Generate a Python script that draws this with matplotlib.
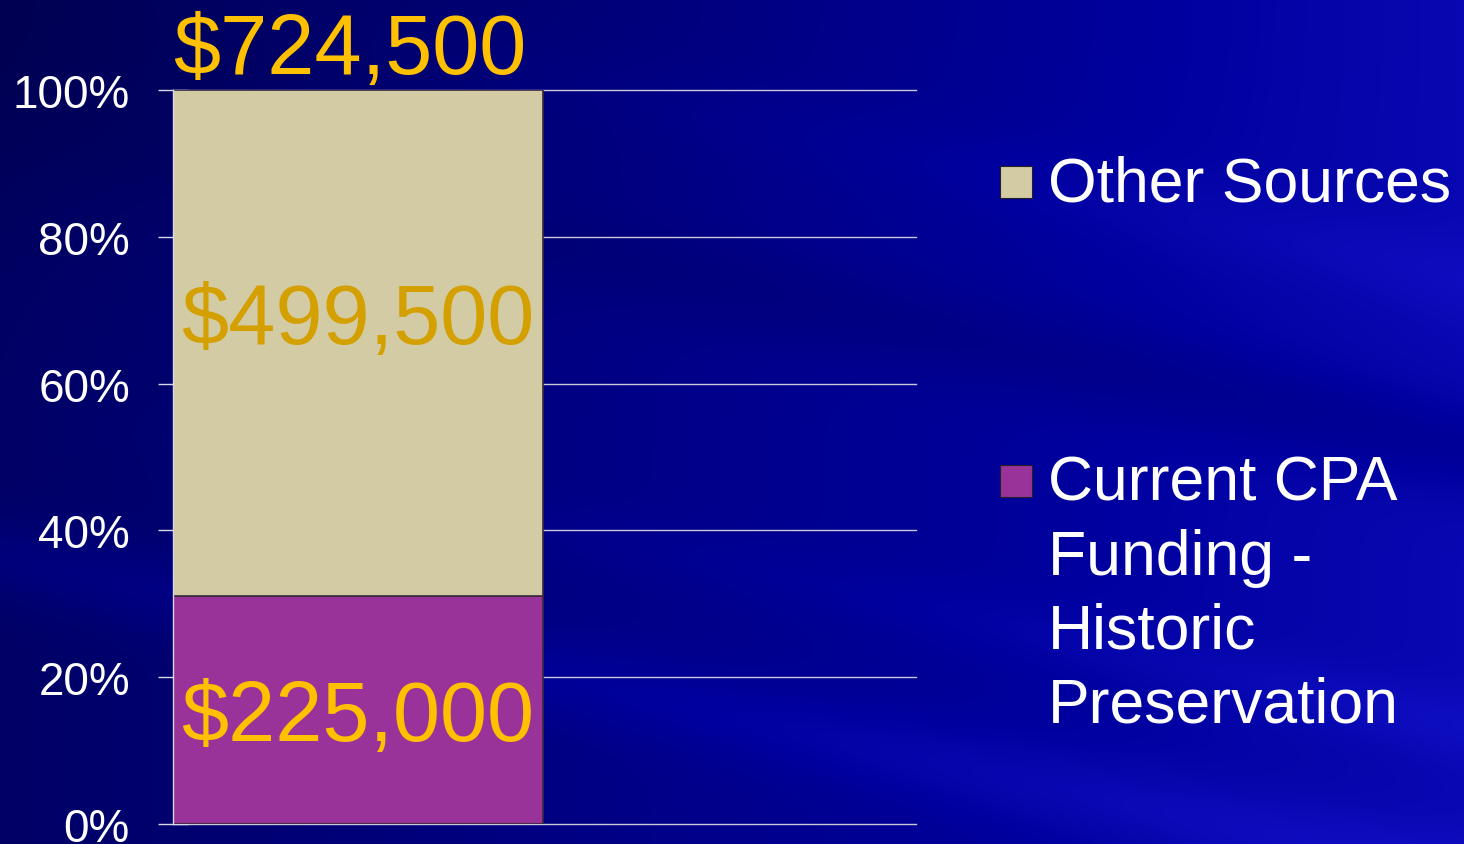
import matplotlib
matplotlib.use("Agg")
import matplotlib.pyplot as plt
import numpy as np
from matplotlib.patches import Rectangle

# data
segments = ["Current CPA\nFunding -\nHistoric\nPreservation", "Other Sources"]
amounts = [225000, 499500]
seg_colors = ["#993399", "#D3CBA3"]
seg_label_colors = ["#FFC000", "#D4A000"]
yticks = [0, 20, 40, 60, 80, 100]

plt.rcParams["font.family"] = ["Liberation Sans", "DejaVu Sans"]

W, H = 1464, 845
fig = plt.figure(figsize=(W / 100, H / 100), dpi=100)


def px(x, y):
    return x / W, 1 - y / H


# background: dark blue with diagonal light streaks
bg = fig.add_axes([0, 0, 1, 1])
bg.axis("off")
yy, xx = np.mgrid[0:H, 0:W]
u = xx / W
v = yy / H
d = v - 0.38 * u
blue = 0.40 + 0.30 * u
blue += 0.08 * np.exp(-((d - 0.66) / 0.05) ** 2)
blue += 0.06 * np.exp(-((d - 0.48) / 0.04) ** 2) * u
blue -= 0.10 * np.exp(-((d - 0.15) / 0.06) ** 2) * u
blue += 0.05 * np.exp(-((d + 0.05) / 0.05) ** 2) * u
blue -= 0.08 * (1 - u) * np.exp(-((v - 0.0) / 0.25) ** 2)
blue = np.clip(blue, 0.25, 0.85)
light = np.clip((blue - 0.62) * 0.4, 0, 0.08)
img = np.dstack([light, light, blue])
bg.imshow(img, extent=[0, 1, 0, 1], aspect="auto", zorder=-10)
bg.set_xlim(0, 1)
bg.set_ylim(0, 1)

# main axes
x0, x1, ytop, ybot = 173, 916, 91, 825
ax = fig.add_axes([x0 / W, (H - ybot) / H, (x1 - x0) / W, (ybot - ytop) / H])
ax.patch.set_alpha(0)

total = sum(amounts)
pcts = [a / total * 100 for a in amounts]
bar_w = 1.0
ax.set_xlim(0, (x1 - x0) / (543 - x0))
ax.set_ylim(0, 100)

bottom = 0
for pct, col in zip(pcts, seg_colors):
    ax.bar(0, pct, bar_w, bottom=bottom, align="edge", color=col,
           edgecolor="#3a2a3a", linewidth=1.2, zorder=2)
    bottom += pct

# segment labels (offsets in px)
offsets = [-8, 22]
bottom = 0
for amt, pct, lc, off in zip(amounts, pcts, seg_label_colors, offsets):
    ax.annotate(f"${amt:,.0f}", (bar_w / 2, bottom + pct / 2),
                xytext=(0, off * 0.72), textcoords="offset points",
                ha="center", va="center", fontsize=61, color=lc, zorder=4)
    bottom += pct

ax.annotate(f"${total:,.0f}", (bar_w / 2, 100), xytext=(-6, 12.2),
            textcoords="offset points", ha="center", va="baseline",
            fontsize=61, color="#FFC000", annotation_clip=False)

ax.set_yticks(yticks)
ax.set_yticklabels([f"{t}%" for t in yticks])
ax.set_xticks([])
ax.yaxis.grid(True, color="#C8C8D8", linewidth=1.0, zorder=0)
ax.set_axisbelow(True)
for gl in ax.get_ygridlines():
    gl.set_clip_on(False)
ax.tick_params(axis="y", direction="inout", length=22, width=1.0,
               colors="#D8D8E8", labelcolor="white", labelsize=33, pad=20)
for s in ["top", "right", "bottom"]:
    ax.spines[s].set_visible(False)
ax.spines["left"].set_color("#D8D8E8")
ax.spines["left"].set_linewidth(1.0)
for t in ax.yaxis.get_major_ticks():
    t.tick1line.set_zorder(5)

# legend drawn by hand: top entry is the top segment
leg_items = [(segments[1], seg_colors[1], 202), (segments[0], seg_colors[0], 501)]
for label, col, base in leg_items:
    sx, sy = px(1000, base - 3)
    fig.patches.append(Rectangle((sx, sy), 32 / W, 32 / H, transform=fig.transFigure,
                                 facecolor=col, edgecolor="#222222", linewidth=0.8))
    for i, line in enumerate(label.split("\n")):
        lx, ly = px(1048, base + i * 73.7)
        fig.text(lx, ly, line, color="white", fontsize=45, ha="left", va="baseline")

fig.savefig("out.png", dpi=100)
